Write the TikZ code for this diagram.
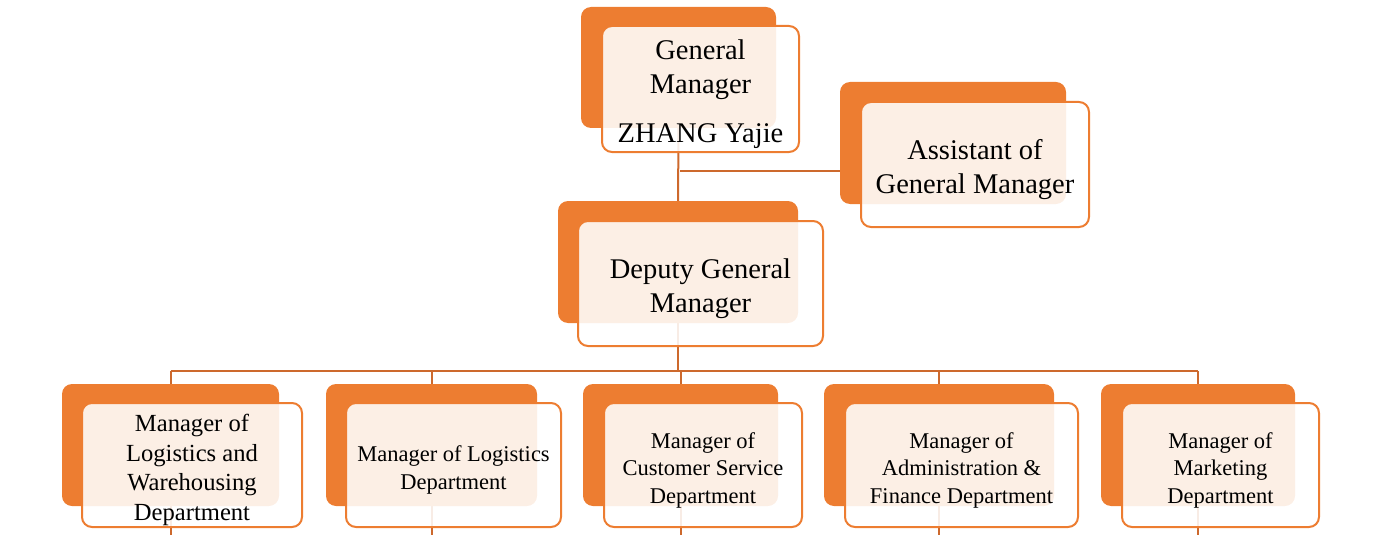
\documentclass[tikz,border=0pt]{standalone}
\usepackage{fontspec}
\setmainfont{Liberation Serif}
\usetikzlibrary{fit,backgrounds}
\definecolor{acc}{RGB}{237,125,49}
\definecolor{conn}{RGB}{205,105,45}
\tikzset{
 backbox/.style={fill=acc, draw=none, rounded corners=5pt, inner sep=0pt},
 frontbox/.style={draw=acc, line width=1pt, fill=white, fill opacity=0.88, rounded corners=5pt, inner sep=0pt},
 label text/.style={align=center, inner sep=0pt, yshift=-2.5pt},
 big/.style={label text, font=\fontsize{14.25}{17.25}\selectfont},
 mid/.style={label text, font=\fontsize{12.3}{14.75}\selectfont},
 small/.style={label text, font=\fontsize{11.25}{13.75}\selectfont},
 link/.style={draw=conn, line width=1pt},
}
\begin{document}
\begin{tikzpicture}[x=0.5pt,y=-0.5pt]
\useasboundingbox (0,0) rectangle (1375,535);
% back boxes
\node[backbox, fit={(581,7) (776,128)}] (gmb) {};
\node[backbox, fit={(840,82) (1066,204)}] (asb) {};
\node[backbox, fit={(558,201) (798,323)}] (dgmb) {};
\node[backbox, fit={(62,384) (279,506)}] (b1b) {};
\node[backbox, fit={(326,384) (537,506)}] (b2b) {};
\node[backbox, fit={(583,384) (778,506)}] (b3b) {};
\node[backbox, fit={(824,384) (1054,506)}] (b4b) {};
\node[backbox, fit={(1101,384) (1295,506)}] (b5b) {};
% front boxes
\node[frontbox, fit={(602,26) (799,152)}] (gm) {};
\node[frontbox, fit={(861,102) (1089,227)}] (as) {};
\node[frontbox, fit={(578,221) (823,346)}] (dgm) {};
\node[frontbox, fit={(82,403) (302,527)}] (b1) {};
\node[frontbox, fit={(346,403) (561,527)}] (b2) {};
\node[frontbox, fit={(604,403) (802,527)}] (b3) {};
\node[frontbox, fit={(845,403) (1078,527)}] (b4) {};
\node[frontbox, fit={(1122,403) (1319,527)}] (b5) {};
% texts
\node[big] (gmt) at (gm.center) {General\\Manager\\[7pt]ZHANG Yajie};
\node[big] (ast) at (as.center) {Assistant of\\General Manager};
\node[big] (dgmt) at (dgm.center) {Deputy General\\Manager};
\node[mid] (b1t) at (b1.center) {Manager of\\Logistics and\\Warehousing\\Department};
\node[small] (b2t) at (b2.center) {Manager of Logistics\\Department};
\node[small] (b3t) at (b3.center) {Manager of\\Customer Service\\Department};
\node[small] (b4t) at (b4.center) {Manager of\\Administration \&\\Finance Department};
\node[small] (b5t) at (b5.center) {Manager of\\Marketing\\Department};
% connectors
\begin{scope}[on background layer]
\coordinate (jn) at (680,171);
\coordinate (bar) at (0,371);
\coordinate (bot) at (0,540);
\draw[link] (gmb.center) -- (dgmb.center);
\draw[link] (jn) -- (jn -| asb.center);
\draw[link] (dgmb.center) -- (dgmb.center |- bar);
\draw[link] (b1b.center |- bar) -- (b5b.center |- bar);
\foreach \n in {b1b,b2b,b3b,b4b,b5b}
  \draw[link] (\n.center |- bar) -- (\n.center |- bot);
\end{scope}
\end{tikzpicture}
\end{document}
